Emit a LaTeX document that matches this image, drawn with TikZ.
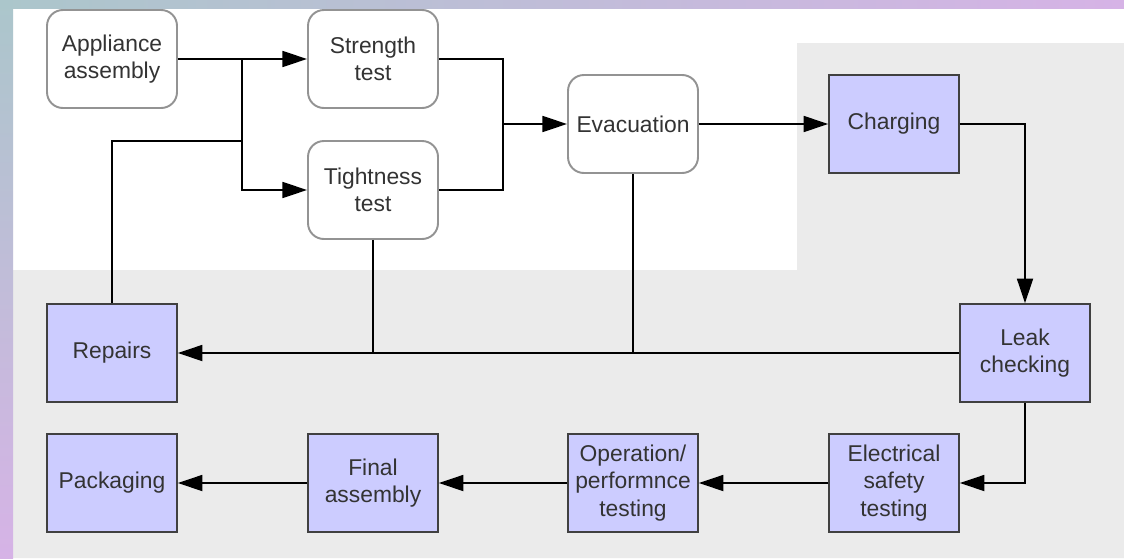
\documentclass[tikz,border=0pt]{standalone}
\usepackage{fontspec}
\setmainfont{Liberation Sans}
\usetikzlibrary{arrows.meta}
\definecolor{boxblue}{HTML}{CCCCFF}
\definecolor{zonegray}{HTML}{EBEBEB}
\definecolor{txtgray}{HTML}{333333}
\definecolor{frameteal}{HTML}{ABC6CB}
\definecolor{framelilac}{HTML}{D6B3E6}
\tikzset{
	stepround/.style={draw=gray!85, line width=1.1pt, rounded corners=9pt, fill=white, minimum width=2.6cm, minimum height=1.96cm, align=center, text=txtgray, font=\fontsize{13}{15.5}\selectfont},
	stepbox/.style={stepround, rounded corners=0pt, draw=black!75, line width=0.9pt, fill=boxblue},
	flow/.style={line width=1.35pt, line join=miter},
	flowto/.style={flow, -{Triangle[length=14pt,width=9pt]}}
}
\begin{document}
\begin{tikzpicture}[x=0.02cm,y=-0.02cm]
		\useasboundingbox (0,0) rectangle (1124,558);
		\fill[white] (0,0) rectangle (1124,558);
		\fill[zonegray] (13,558) -- (13,270) -- (797,270) -- (797,43) -- (1124,43) -- (1124,558) -- cycle;
		\shade[top color=frameteal, bottom color=framelilac] (0,0) rectangle (13,558);
		\shade[left color=frameteal, right color=framelilac] (0,0) rectangle (1124,8);
		
		\node[stepround] (app) at (112,59) {Appliance\\assembly};
		\node[stepround] (str) at (373,59) {Strength\\test};
		\node[stepround] (tig) at (373,190) {Tightness\\test};
		\node[stepround] (eva) at (633,124) {Evacuation};
		
		\node[stepbox] (chg) at (894,124) {Charging};
		\node[stepbox] (rep) at (112,353) {Repairs};
		\node[stepbox] (leak) at (1025,353) {Leak\\checking};
		\node[stepbox] (pack) at (112,483) {Packaging};
		\node[stepbox] (fin) at (373,483) {Final\\assembly};
		\node[stepbox] (ope) at (633,483) {Operation/\\performnce\\testing};
		\node[stepbox] (ele) at (894,483) {Electrical\\safety\\testing};
		
		\coordinate (split) at (242,59);
		\coordinate (rejoin) at (242,141);
		\coordinate (merge) at (503,124);
		
		\draw[flowto] (app) -- (str);
		\draw[flowto] (split) |- (tig);
		\draw[flow] (rep) |- (rejoin);
		\draw[flow] (str) -| (merge);
		\draw[flow] (tig) -| (merge);
		\draw[flowto] (merge) -- (eva);
		\draw[flowto] (eva) -- (chg);
		\draw[flowto] (chg) -| (leak);
		\draw[flowto] (leak) -- (rep);
		\draw[flow] (tig) -- (tig |- rep);
		\draw[flow] (eva) -- (eva |- rep);
		\draw[flowto] (leak) |- (ele);
		\draw[flowto] (ele) -- (ope);
		\draw[flowto] (ope) -- (fin);
		\draw[flowto] (fin) -- (pack);
	\end{tikzpicture}
\end{document}
